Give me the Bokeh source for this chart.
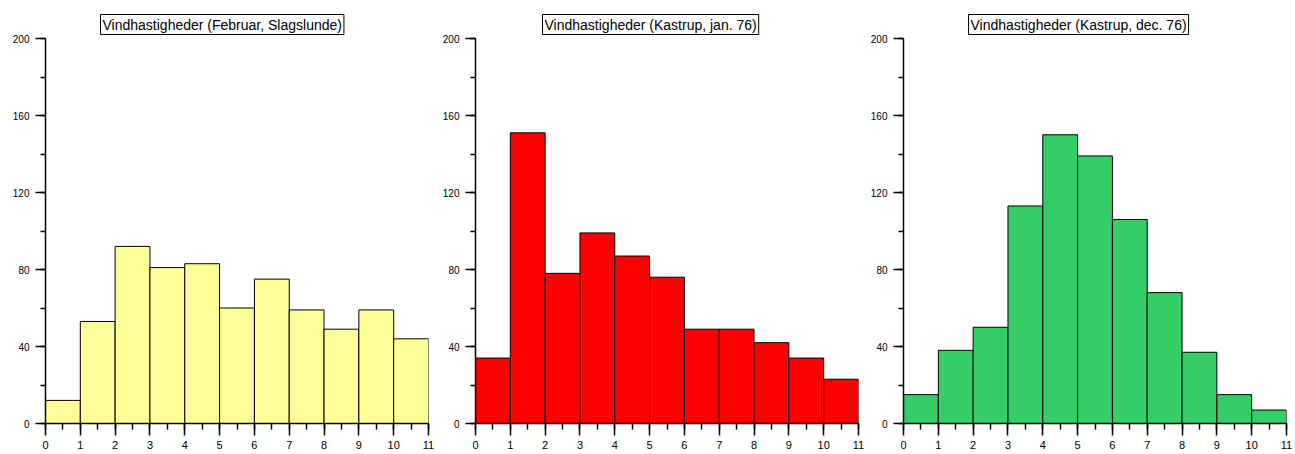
from bokeh.plotting import figure
from bokeh.models import Range1d, SingleIntervalTicker, Title, Row
from bokeh.embed import file_html
from bokeh.resources import INLINE

# Wind-speed classes (bin edges, m/s) and counts per class
bin_edges = [0, 1, 2, 3, 4, 5, 6, 7, 8, 9, 10, 11]

slagslunde_feb = [12, 53, 92, 81, 83, 60, 75, 59, 49, 59, 44]
kastrup_jan76 = [34, 151, 78, 99, 87, 76, 49, 49, 42, 34, 23]
kastrup_dec76 = [15, 38, 50, 113, 150, 139, 106, 68, 37, 15, 7]

titles = [
    "Vindhastigheder (Februar, Slagslunde)",
    "Vindhastigheder (Kastrup, jan. 76)",
    "Vindhastigheder (Kastrup, dec. 76)",
]
series = [slagslunde_feb, kastrup_jan76, kastrup_dec76]
colors = ["#FFFF99", "#FF0000", "#35CD66"]

FONT = "Liberation Sans"
# (left border, right border, title offset) per panel
layout_params = [(45, 6, 55), (41, 6, 67), (39, 9, 65)]


def histogram(title, counts, color, left, right, title_offset):
    p = figure(
        frame_width=383, frame_height=385,
        min_border_left=left, min_border_right=right,
        min_border_top=38, min_border_bottom=31,
        x_range=Range1d(0, 11), y_range=Range1d(0, 200),
        output_backend="svg", toolbar_location=None,
    )
    p.outline_line_color = None
    p.grid.visible = False

    p.quad(left=bin_edges[:-1], right=bin_edges[1:], bottom=0, top=counts,
           fill_color=color, line_color="black", line_width=1)

    xa = p.xaxis[0]
    xa.ticker = SingleIntervalTicker(interval=1, num_minor_ticks=2)
    xa.major_tick_out = 12
    xa.major_tick_in = 0
    xa.minor_tick_out = 6
    xa.minor_tick_in = 0
    xa.major_label_standoff = 5
    xa.major_label_text_font = FONT
    xa.major_label_text_font_size = "11px"
    xa.major_label_text_color = "black"

    ya = p.yaxis[0]
    ya.ticker = SingleIntervalTicker(interval=40, num_minor_ticks=2)
    ya.major_tick_out = 10
    ya.major_tick_in = 0
    ya.minor_tick_out = 5
    ya.minor_tick_in = 0
    ya.major_label_standoff = 6
    ya.major_label_text_font = FONT
    ya.major_label_text_font_size = "10px"
    ya.major_label_text_color = "black"

    for ax in (xa, ya):
        ax.axis_line_color = "black"
        ax.axis_line_width = 1.5
        ax.major_tick_line_color = "black"
        ax.major_tick_line_width = 1.5
        ax.minor_tick_line_color = "black"
        ax.minor_tick_line_width = 1.5

    p.add_layout(Title(
        text=title, align="left", offset=title_offset, standoff=8,
        text_font=FONT, text_font_size="14px", text_font_style="normal",
        text_color="black",
        border_line_color="black", border_line_width=1,
        background_fill_color="white", padding=2,
    ), "above")
    return p


panels = [histogram(t, c, col, l, r, o)
          for t, c, col, (l, r, o) in zip(titles, series, colors, layout_params)]
layout = Row(children=panels, spacing=0)

open("out.html", "w").write(file_html(layout, INLINE))
